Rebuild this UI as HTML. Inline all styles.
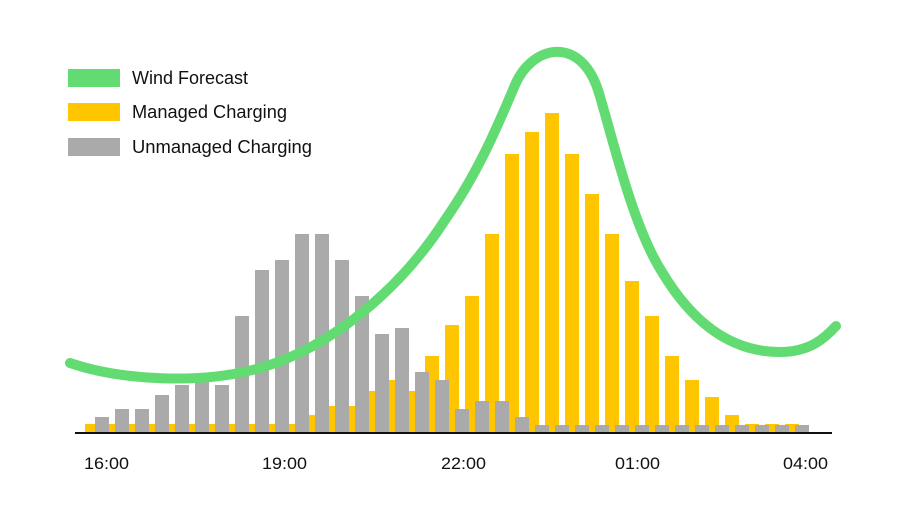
<!DOCTYPE html>
<html><head><meta charset="utf-8"><style>
html,body{margin:0;padding:0;background:#fff;}
svg{display:block;}
text{font-family:"Liberation Sans",sans-serif;fill:#111;}
</style></head><body>
<svg width="905" height="506" viewBox="0 0 905 506">
<g fill="#ffc600">
<rect x="85" y="424" width="14" height="9"/><rect x="105" y="424" width="14" height="9"/><rect x="125" y="424" width="14" height="9"/><rect x="145" y="424" width="14" height="9"/><rect x="165" y="424" width="14" height="9"/><rect x="185" y="424" width="14" height="9"/><rect x="205" y="424" width="14" height="9"/><rect x="225" y="424" width="14" height="9"/><rect x="245" y="424" width="14" height="9"/><rect x="265" y="424" width="14" height="9"/><rect x="285" y="424" width="14" height="9"/>
<rect x="305" y="415" width="14" height="18"/><rect x="325" y="406" width="14" height="27"/><rect x="345" y="406" width="14" height="27"/><rect x="365" y="391" width="14" height="42"/><rect x="385" y="380" width="14" height="53"/><rect x="405" y="391" width="14" height="42"/><rect x="425" y="356" width="14" height="77"/><rect x="445" y="325" width="14" height="108"/><rect x="465" y="296" width="14" height="137"/><rect x="485" y="234" width="14" height="199"/><rect x="505" y="154" width="14" height="279"/><rect x="525" y="132" width="14" height="301"/><rect x="545" y="113" width="14" height="320"/><rect x="565" y="154" width="14" height="279"/><rect x="585" y="194" width="14" height="239"/><rect x="605" y="234" width="14" height="199"/><rect x="625" y="281" width="14" height="152"/><rect x="645" y="316" width="14" height="117"/><rect x="665" y="356" width="14" height="77"/><rect x="685" y="380" width="14" height="53"/><rect x="705" y="397" width="14" height="36"/><rect x="725" y="415" width="14" height="18"/><rect x="745" y="424" width="14" height="9"/><rect x="765" y="424" width="14" height="9"/><rect x="785" y="424" width="14" height="9"/>
</g>
<g fill="#aaaaaa">
<rect x="95" y="417" width="14" height="16"/><rect x="115" y="409" width="14" height="24"/><rect x="135" y="409" width="14" height="24"/><rect x="155" y="395" width="14" height="38"/><rect x="175" y="385" width="14" height="48"/><rect x="195" y="378" width="14" height="55"/><rect x="215" y="385" width="14" height="48"/><rect x="235" y="316" width="14" height="117"/><rect x="255" y="270" width="14" height="163"/><rect x="275" y="260" width="14" height="173"/><rect x="295" y="234" width="14" height="199"/><rect x="315" y="234" width="14" height="199"/><rect x="335" y="260" width="14" height="173"/><rect x="355" y="296" width="14" height="137"/><rect x="375" y="334" width="14" height="99"/><rect x="395" y="328" width="14" height="105"/><rect x="415" y="372" width="14" height="61"/><rect x="435" y="380" width="14" height="53"/><rect x="455" y="409" width="14" height="24"/><rect x="475" y="401" width="14" height="32"/><rect x="495" y="401" width="14" height="32"/><rect x="515" y="417" width="14" height="16"/>
<rect x="535" y="425" width="14" height="8"/><rect x="555" y="425" width="14" height="8"/><rect x="575" y="425" width="14" height="8"/><rect x="595" y="425" width="14" height="8"/><rect x="615" y="425" width="14" height="8"/><rect x="635" y="425" width="14" height="8"/><rect x="655" y="425" width="14" height="8"/><rect x="675" y="425" width="14" height="8"/><rect x="695" y="425" width="14" height="8"/><rect x="715" y="425" width="14" height="8"/><rect x="735" y="425" width="14" height="8"/><rect x="755" y="425" width="14" height="8"/><rect x="775" y="425" width="14" height="8"/><rect x="795" y="425" width="14" height="8"/>
</g>
<rect x="75" y="432" width="757" height="2" fill="#111"/>
<path d="M70,363 C120,380 200,385 260,368 C330,348 400,290 445,220 C480,170 500,120 515,85 C532,45 580,35 598,90 C612,135 632,225 662,272 C692,322 730,352 780,352 C810,352 825,338 836,326" fill="none" stroke="#62dc72" stroke-width="10" stroke-linecap="round"/>
<rect x="68" y="69" width="52" height="18" fill="#62dc72"/>
<rect x="68" y="103" width="52" height="18" fill="#ffc600"/>
<rect x="68" y="138" width="52" height="18" fill="#aaaaaa"/>
<text x="132" y="84" font-size="18" textLength="116" lengthAdjust="spacingAndGlyphs">Wind Forecast</text>
<text x="132" y="118" font-size="18" textLength="155" lengthAdjust="spacingAndGlyphs">Managed Charging</text>
<text x="132" y="153" font-size="18" textLength="180" lengthAdjust="spacingAndGlyphs">Unmanaged Charging</text>
<g font-size="17">
<text x="84" y="469" textLength="45" lengthAdjust="spacingAndGlyphs">16:00</text>
<text x="262" y="469" textLength="45" lengthAdjust="spacingAndGlyphs">19:00</text>
<text x="441" y="469" textLength="45" lengthAdjust="spacingAndGlyphs">22:00</text>
<text x="615" y="469" textLength="45" lengthAdjust="spacingAndGlyphs">01:00</text>
<text x="783" y="469" textLength="45" lengthAdjust="spacingAndGlyphs">04:00</text>
</g>
</svg>
</body></html>
